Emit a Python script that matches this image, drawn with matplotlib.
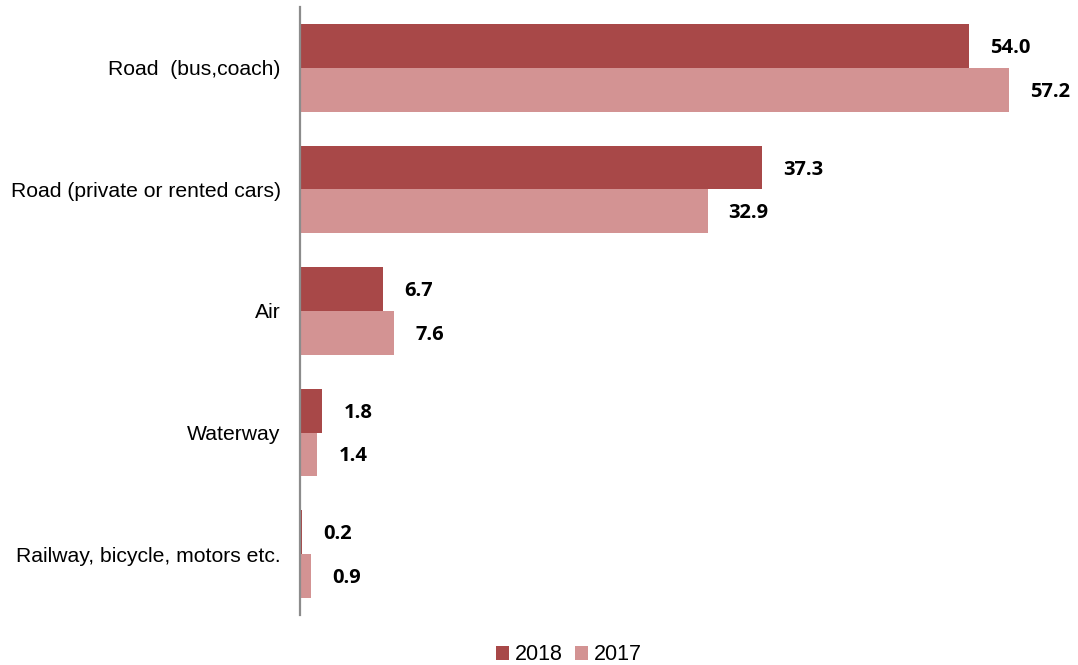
import matplotlib
matplotlib.use("Agg")
import matplotlib.pyplot as plt
import numpy as np

categories = ["Road  (bus,coach)", "Road (private or rented cars)", "Air", "Waterway",
              "Railway, bicycle, motors etc."]
values_2018 = [54.0, 37.3, 6.7, 1.8, 0.2]
values_2017 = [57.2, 32.9, 7.6, 1.4, 0.9]
series_names = ["2018", "2017"]
colors = ["#A84848", "#D39393"]

W, H = 1078, 665
fig = plt.figure(figsize=(W / 100, H / 100), dpi=100)
ax = fig.add_axes([300 / W, 1 - 615 / H, (W - 300) / W, (615 - 7) / H])

y = np.arange(len(categories))
bh = 0.36
b1 = ax.barh(y - bh / 2, values_2018, height=bh, color=colors[0], label=series_names[0])
b2 = ax.barh(y + bh / 2, values_2017, height=bh, color=colors[1], label=series_names[1])

ax.set_ylim(len(categories) - 0.5, -0.5)
ax.set_xlim(0, (W - 300) / 12.39)

for bars, vals in ((b1, values_2018), (b2, values_2017)):
    for rect, v in zip(bars, vals):
        ax.annotate(f"{v:.1f}", (rect.get_width(), rect.get_y() + rect.get_height() / 2),
                    xytext=(21, -2), textcoords="offset pixels",
                    ha="left", va="center", fontsize=14.5, fontweight="bold",
                    family=["Open Sans", "DejaVu Sans"], color="black")

ax.set_yticks(y)
ax.set_yticklabels(categories, family=["Liberation Sans", "DejaVu Sans"], fontsize=15.2)
ax.tick_params(axis="y", length=0, pad=14)
ax.set_xticks([])
for s in ["top", "right", "bottom"]:
    ax.spines[s].set_visible(False)
ax.spines["left"].set_color("#8c8c8c")
ax.spines["left"].set_linewidth(1.6)

leg = fig.legend(handles=[b1, b2], labels=series_names, loc="center",
                 bbox_to_anchor=(569 / W, 1 - 655 / H), ncol=2, frameon=False,
                 prop={"family": ["Liberation Sans", "DejaVu Sans"], "size": 15.5},
                 handlelength=0.6, handleheight=0.6, handletextpad=0.25, columnspacing=0.6)

fig.savefig("out.png", dpi=100)
